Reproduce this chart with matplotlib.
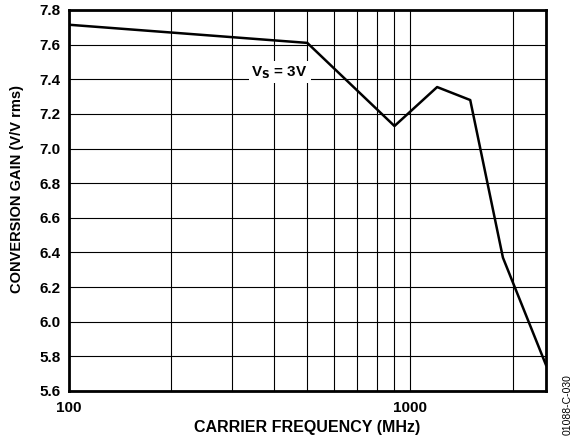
import matplotlib
matplotlib.use('Agg')
import matplotlib.pyplot as plt
from matplotlib.ticker import FixedLocator, NullFormatter

plt.rcParams['font.family'] = ['Liberation Sans', 'DejaVu Sans']

# data
freq_mhz = [100, 500, 900, 1200, 1500, 1870, 2500]
gain = [7.715, 7.61, 7.13, 7.355, 7.28, 6.37, 5.75]
yticks = [5.6, 5.8, 6.0, 6.2, 6.4, 6.6, 6.8, 7.0, 7.2, 7.4, 7.6, 7.8]

fig = plt.figure(figsize=(5.74, 4.44), dpi=100)
ax = fig.add_axes([0.1195, 0.1194, 0.8317, 0.8581])

ax.plot(freq_mhz, gain, color='black', lw=1.8, zorder=3)

ax.set_xscale('log')
ax.set_xlim(100, 2500)
ax.set_ylim(5.6, 7.8)

ax.xaxis.set_major_locator(FixedLocator([100, 1000]))
ax.xaxis.set_minor_locator(FixedLocator([200, 300, 400, 500, 600, 700, 800, 900, 2000]))
ax.xaxis.set_minor_formatter(NullFormatter())
ax.set_xticklabels(['100', '1000'], fontweight='bold', fontsize=11)
ax.set_yticks(yticks)
ax.set_yticklabels([f'{v:.1f}' for v in yticks], fontweight='bold', fontsize=11)
ax.tick_params(which='both', length=0)
ax.tick_params(axis='x', pad=7)
ax.tick_params(axis='y', pad=6)

ax.grid(True, which='both', color='black', lw=0.8)
for s in ax.spines.values():
    s.set_linewidth(2)

ax.set_xlabel('CARRIER FREQUENCY (MHz)', fontweight='bold', fontsize=11.5, labelpad=4)
ax.set_ylabel('CONVERSION GAIN (V/V rms)', fontweight='bold', fontsize=10.5)
ax.yaxis.set_label_coords(-0.094, 0.53)

ax.text(415, 7.44, r'V$_\mathbf{S}$ = 3V', fontweight='bold', fontsize=11,
        ha='center', va='center', zorder=4,
        bbox=dict(facecolor='white', edgecolor='none', pad=2))

fig.text(0.997, 0.088, '01088-C-030', rotation=90, fontsize=7.5, ha='right', va='center')

fig.savefig('out.png', dpi=100)
